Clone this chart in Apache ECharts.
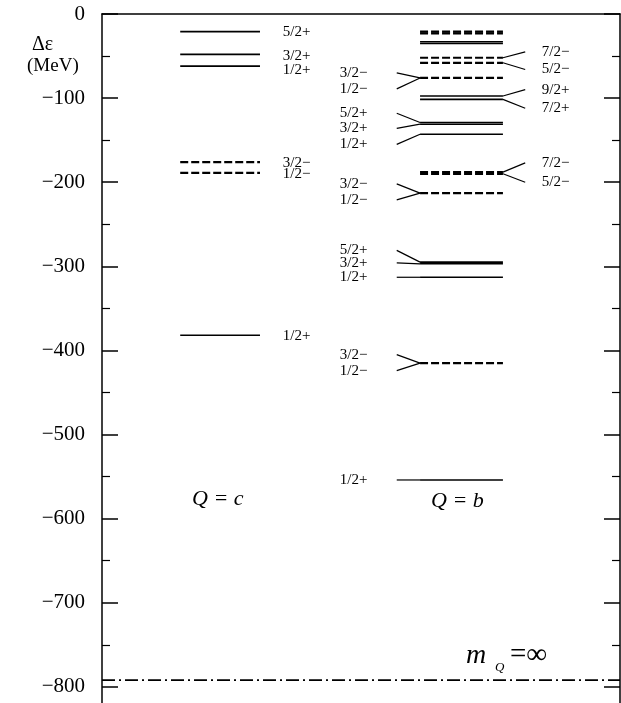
<!DOCTYPE html>
<html><head><meta charset="utf-8">
<script src="https://cdn.jsdelivr.net/npm/echarts@6/dist/echarts.min.js"></script>
<style>html,body{margin:0;padding:0;background:#fff}#c{width:621px;height:703px}</style>
</head><body><div id="c"></div>
<script>
// ---------- data (MeV) ----------
const yTickValues = [0, -100, -200, -300, -400, -500, -600, -700, -800];

// Q = c column
const cLevels  = [-21, -48, -62, -176, -189, -382];
const cNeg     = [0, 0, 0, 1, 1, 0];           // 1 = negative parity (dashed)
const cSpins   = ['5/2+', '3/2+', '1/2+', '3/2−', '1/2−', '1/2+'];
const cLabelAt = [-21, -50, -67, -177, -190, -383];

// Q = b column
const bLevels = [-21, -23, -33, -35, -52, -58, -76, -97.5, -101.5, -129, -131, -143, -188, -190, -213, -295, -297, -313, -415, -554];
const bNeg    = [1, 1, 0, 0, 1, 1, 1, 0, 0, 0, 0, 0, 1, 1, 1, 0, 0, 0, 1, 0];

// Q = b labels on the left side
const bLeftSpins = ['3/2−', '1/2−', '5/2+', '3/2+', '1/2+', '3/2−', '1/2−', '5/2+', '3/2+', '1/2+', '3/2−', '1/2−', '1/2+'];
const bLeftLevel = [-76, -76, -129, -131, -143, -213, -213, -295, -297, -313, -415, -415, -554];
const bLeftAt    = [-70, -89, -118, -136, -155, -202, -221, -281, -296, -313, -405, -424, -554];

// Q = b labels on the right side
const bRightSpins = ['7/2−', '5/2−', '9/2+', '7/2+', '7/2−', '5/2−'];
const bRightLevel = [-52, -58, -97.5, -101.5, -188, -190];
const bRightAt    = [-45, -66, -90, -112, -177, -200];

// heavy-quark limit
const heavyLimit = [-792];

// ---------- layout (x in % of plot width) ----------
const X = { cL0: 15.1, cL1: 30.5, cLab: 34.9,
            bL0: 61.4, bL1: 77.4, bLConn: 56.9, bLLab: 45.9, bRConn: 81.7, bRLab: 84.9 };
const SERIF = "'Liberation Serif', 'DejaVu Serif', serif";

const levelMarks = [];
cLevels.forEach((v, i) => levelMarks.push({ x0: X.cL0, x1: X.cL1, v, neg: cNeg[i] }));
bLevels.forEach((v, i) => levelMarks.push({ x0: X.bL0, x1: X.bL1, v, neg: bNeg[i] }));

const labelMarks = [];
cSpins.forEach((s, i) => labelMarks.push({ side: 'C', spin: s, level: cLevels[i], at: cLabelAt[i] }));
bLeftSpins.forEach((s, i) => labelMarks.push({ side: 'L', spin: s, level: bLeftLevel[i], at: bLeftAt[i] }));
bRightSpins.forEach((s, i) => labelMarks.push({ side: 'R', spin: s, level: bRightLevel[i], at: bRightAt[i] }));

const chart = echarts.init(document.getElementById('c'), null, { renderer: 'canvas' });

const axisCommon = {
  type: 'value', min: -900, max: 0, interval: 100,
  axisLine: { show: true, lineStyle: { color: '#000', width: 1.5 } },
  axisTick: { show: true, inside: true, length: 16, lineStyle: { color: '#000', width: 1.5 } },
  minorTick: { show: true, splitNumber: 2, length: 8, lineStyle: { color: '#000', width: 1.2 } },
  splitLine: { show: false }, minorSplitLine: { show: false }
};

chart.setOption({
  animation: false,
  backgroundColor: '#fff',
  grid: { left: 102, right: 1, top: 14, height: 757, outerBoundsMode: 'none', containLabel: false },
  xAxis: { type: 'value', min: 0, max: 100, position: 'top',
    axisLine: { show: true, lineStyle: { color: '#000', width: 1.5 } },
    axisTick: { show: false }, axisLabel: { show: false }, splitLine: { show: false } },
  yAxis: [
    Object.assign({}, axisCommon, { position: 'left',
      axisLabel: { show: true, margin: 17, color: '#000', fontFamily: SERIF, fontSize: 21,
        formatter: v => (yTickValues.indexOf(v) < 0 ? '' : (v === 0 ? '0' : '−' + (-v))) } }),
    Object.assign({}, axisCommon, { position: 'right', axisLabel: { show: false } })
  ],
  graphic: [
    { type: 'text', left: 32, top: 35, style: { text: 'Δε', font: '20px ' + SERIF, fill: '#000' } },
    { type: 'text', left: 27, top: 57, style: { text: '(MeV)', font: '19px ' + SERIF, fill: '#000' } },
    { type: 'text', left: 192, top: 488, style: { text: 'Q = c', font: 'italic 22px ' + SERIF, fill: '#000' } },
    { type: 'text', left: 431, top: 490, style: { text: 'Q = b', font: 'italic 22px ' + SERIF, fill: '#000' } },
    { type: 'text', left: 466, top: 642, style: { text: 'm', font: 'italic 28px ' + SERIF, fill: '#000' } },
    { type: 'text', left: 495, top: 661, style: { text: 'Q', font: 'italic 13px ' + SERIF, fill: '#000' } },
    { type: 'text', left: 510, top: 641, style: { text: '=∞', font: '29px ' + SERIF, fill: '#000' } }
  ],
  series: [
    {
      type: 'custom', name: 'levels', coordinateSystem: 'cartesian2d',
      data: levelMarks.map(m => [m.x0, m.v]),
      renderItem: (params, api) => {
        const m = levelMarks[params.dataIndex];
        const p0 = api.coord([m.x0, m.v]), p1 = api.coord([m.x1, m.v]);
        return { type: 'line', shape: { x1: p0[0], y1: p0[1], x2: p1[0], y2: p1[1] },
          style: { stroke: '#000', lineWidth: m.neg ? 2.2 : 1.6, lineDash: m.neg ? [8, 3] : null } };
      }
    },
    {
      type: 'custom', name: 'labels', coordinateSystem: 'cartesian2d',
      data: labelMarks.map(m => [0, m.at]),
      renderItem: (params, api) => {
        const m = labelMarks[params.dataIndex];
        const children = [];
        let tx;
        if (m.side === 'C') {
          tx = api.coord([X.cLab, m.at]);
        } else if (m.side === 'L') {
          const a = api.coord([X.bLConn, m.at]), b = api.coord([X.bL0, m.level]);
          children.push({ type: 'line', shape: { x1: a[0], y1: a[1], x2: b[0], y2: b[1] }, style: { stroke: '#000', lineWidth: 1.2 } });
          tx = api.coord([X.bLLab, m.at]);
        } else {
          const a = api.coord([X.bL1, m.level]), b = api.coord([X.bRConn, m.at]);
          children.push({ type: 'line', shape: { x1: a[0], y1: a[1], x2: b[0], y2: b[1] }, style: { stroke: '#000', lineWidth: 1.2 } });
          tx = api.coord([X.bRLab, m.at]);
        }
        children.push({ type: 'text', x: tx[0], y: tx[1],
          style: { text: m.spin, font: '15px ' + SERIF, fill: '#000', align: 'left', verticalAlign: 'middle' } });
        return { type: 'group', children };
      }
    },
    {
      type: 'line', name: 'heavy', symbol: 'none', silent: true,
      data: [[0, heavyLimit[0]], [100, heavyLimit[0]]],
      lineStyle: { color: '#000', width: 1.6, type: [13, 4, 2, 4] }
    }
  ]
});
</script></body></html>
